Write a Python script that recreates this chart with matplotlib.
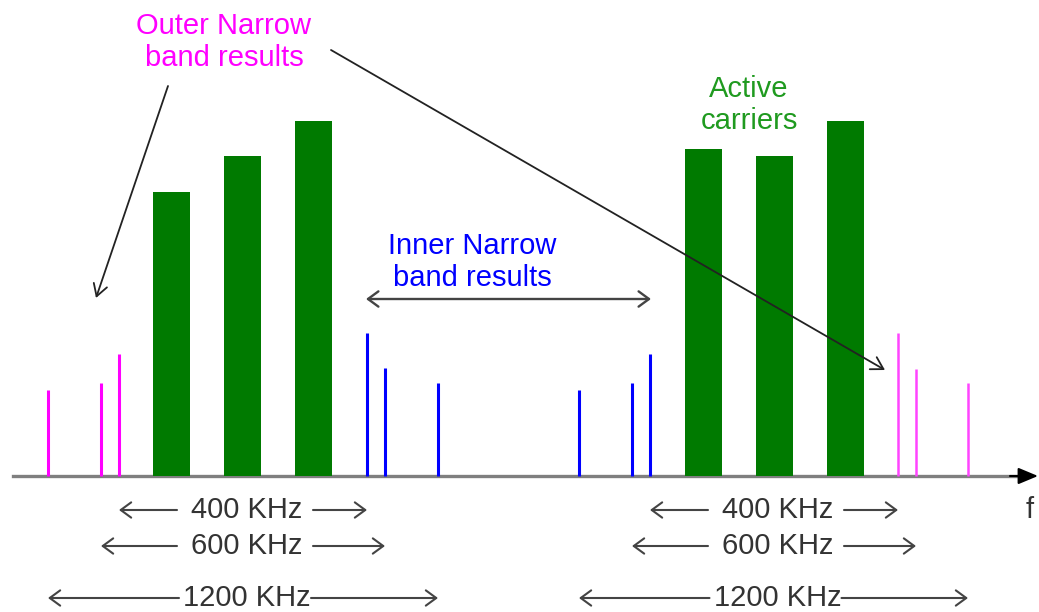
import matplotlib
matplotlib.use("Agg")
import matplotlib.pyplot as plt

plt.rcParams['font.family'] = ['Liberation Sans', 'DejaVu Sans']

# Daten (x = Frequenzposition, y = Pegel, schematisch)
carrier_f = [171.5, 242.5, 313.5, 703, 774, 845]
carrier_level = [284, 320, 355, 327, 320, 355]

outer_f_left = [48, 101, 119]
outer_level_left = [86, 93, 122]
outer_f_right = [898, 916, 968]
outer_level_right = [143, 107, 93]

inner_f = [367, 385, 438, 579, 632, 650]
inner_level = [143, 108, 93, 86, 93, 122]

span_labels = ["400 KHz", "600 KHz", "1200 KHz"]
span_left = [(119, 367), (101, 385), (48, 438)]
span_right = [(650, 898), (632, 916), (579, 968)]
span_y = [-34, -70, -122]
span_gap = [70, 70, 68]

fig = plt.figure(figsize=(10.39, 6.12), dpi=100)
ax = fig.add_axes([0, 0, 1, 1])
ax.set_xlim(0, 1039)
ax.set_ylim(-136, 476)
ax.axis('off')

# Traeger
ax.bar(carrier_f, carrier_level, width=37, color='#007a00', zorder=2)

# Schmalband-Ergebnisse
ax.vlines(outer_f_left, 0, outer_level_left, color='#ff00ff', lw=2.2, zorder=2)
ax.vlines(outer_f_right, 0, outer_level_right, color='#ff44ff', lw=1.8, zorder=2)
ax.vlines(inner_f, 0, inner_level, color='#0000ff', lw=2.2, zorder=2)

# Frequenzachse
ax.plot([13, 1018], [0, 0], color='#7f7f7f', lw=2.4, zorder=1)
ax.annotate('', xy=(1038, 0), xytext=(1010, 0),
            arrowprops=dict(arrowstyle='-|>,head_length=1.2,head_width=0.5',
                            color='black', lw=1.5, shrinkA=0, shrinkB=0))
ax.text(1030, -34, 'f', fontsize=21, color='#333333', ha='center', va='center')

# Bandbreiten-Pfeile
arrow_kw = dict(arrowstyle='->,head_length=0.75,head_width=0.55', color='#444444',
                lw=1.5, shrinkA=0, shrinkB=0)
for spans in (span_left, span_right):
    for (a, b), y, lab, gap in zip(spans, span_y, span_labels, span_gap):
        mid = (a + b) / 2 + 4
        ax.text(mid, y, lab, fontsize=21, color='#333333', ha='center', va='center')
        ax.annotate('', xy=(a, y), xytext=(mid - gap, y), arrowprops=arrow_kw)
        ax.annotate('', xy=(b, y), xytext=(mid + gap - 4, y), arrowprops=arrow_kw)

# Beschriftungen
ax.text(224, 434, 'Outer Narrow\nband results', fontsize=21, color='#ff00ff',
        ha='center', va='center', linespacing=1.2)
ax.text(472, 214, 'Inner Narrow\nband results', fontsize=21, color='#0000ff',
        ha='center', va='center', linespacing=1.2)
ax.text(749, 371, 'Active\ncarriers', fontsize=21, color='#1f9a1f',
        ha='center', va='center', linespacing=1.2)

pointer_kw = dict(arrowstyle='->,head_length=0.85,head_width=0.5', color='#222222',
                  lw=1.3, shrinkA=0, shrinkB=0)
ax.annotate('', xy=(96, 178), xytext=(168, 390), arrowprops=pointer_kw)
ax.annotate('', xy=(885, 106), xytext=(331, 426), arrowprops=pointer_kw)

inner_kw = dict(arrowstyle='<->,head_length=0.75,head_width=0.55', color='#444444',
                lw=1.7, shrinkA=0, shrinkB=0)
ax.annotate('', xy=(651, 177), xytext=(366, 177), arrowprops=inner_kw)

fig.savefig('out.png', dpi=100, facecolor='white')
